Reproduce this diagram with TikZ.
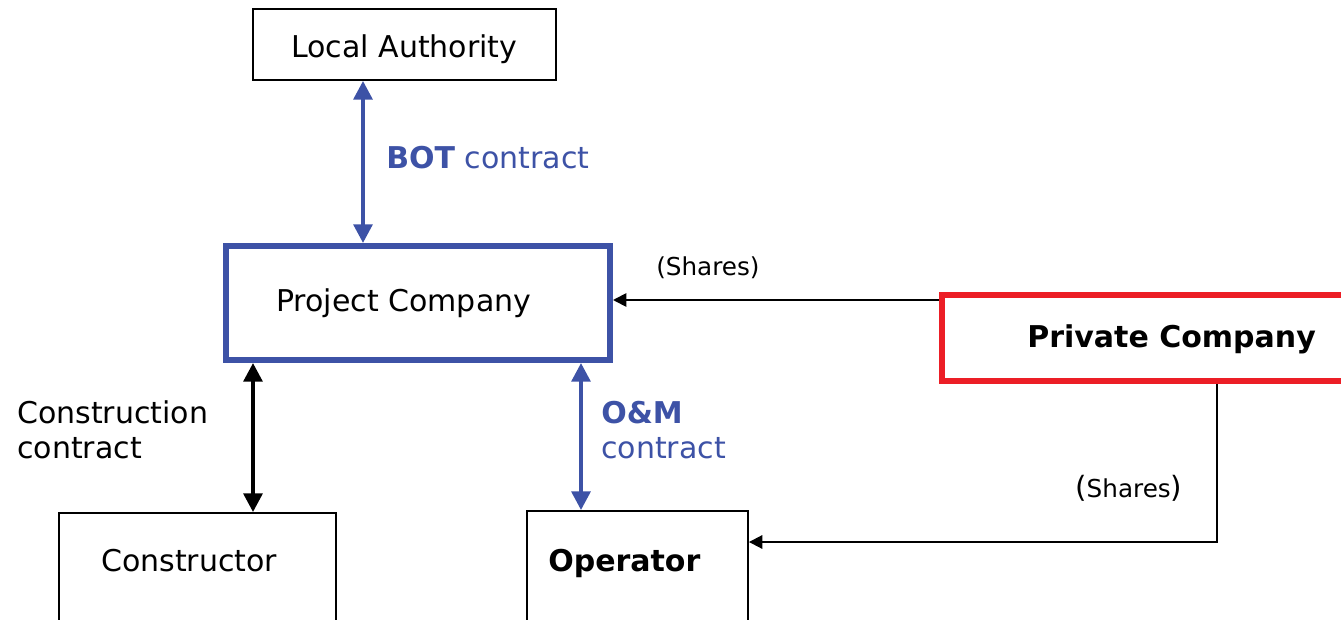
\documentclass[tikz,border=0pt]{standalone}
\usepackage{fontspec}
\setmainfont{DejaVu Sans}
\usetikzlibrary{arrows.meta,fit}

\definecolor{bluecontract}{RGB}{61,82,166}
\definecolor{redbox}{RGB}{236,30,38}

\begin{document}
\begin{tikzpicture}[x=0.75pt,y=-0.75pt,
  thinbox/.style={draw=black,line width=1.4pt,inner sep=0pt},
  bluebox/.style={draw=bluecontract,line width=4.5pt,inner sep=0pt},
  redframe/.style={draw=redbox,line width=4.5pt,inner sep=0pt},
  txt/.style={inner sep=0pt,anchor=base west,font=\fontsize{22.5}{26}\selectfont},
  smalltxt/.style={inner sep=0pt,anchor=base west,font=\fontsize{18.5}{22}\selectfont},
  twoline/.style={inner sep=0pt,anchor=west,align=left,font=\fontsize{22.5}{26.5}\selectfont},
  bluelink/.style={bluecontract,line width=3pt,
    arrows={Triangle[length=14pt,width=14pt]-Triangle[length=14pt,width=14pt]}},
  blacklink/.style={black,line width=3pt,
    arrows={Triangle[length=14pt,width=14pt]-Triangle[length=14pt,width=14pt]}},
  shareslink/.style={black,line width=1.4pt,
    arrows={-Triangle[length=10pt,width=10pt]}}
]
\useasboundingbox (0,0) rectangle (1341,620);
\clip (0,0) rectangle (1341,620);

% boxes
\node[thinbox,fit={(253,9) (556,80)}] (la) {};
\node[bluebox,fit={(226,246) (610,360)}] (pc) {};
\node[redframe,fit={(942,295) (1370,381)}] (prc) {};
\node[thinbox,fit={(59,513) (336,660)}] (con) {};
\node[thinbox,fit={(527,511) (748,660)}] (op) {};

% box texts
\node[txt] (latxt) at (291,58) {Local Authority};
\node[txt] (pctxt) at (276,311) {Project Company};
\node[txt,font=\fontsize{22.5}{26}\selectfont\bfseries] (prctxt) at (1027,347) {Private Company};
\node[txt] (contxt) at (101,571) {Constructor};
\node[txt,font=\fontsize{22.5}{26}\selectfont\bfseries] (optxt) at (548,571) {Operator};

% connector positions
\coordinate (xbot) at (363,0);
\coordinate (xcon) at (253,0);
\coordinate (xom) at (581,0);
\coordinate (yshare) at (0,300);
\coordinate (xshare) at (1217,0);
\coordinate (bend) at (1217,542);

% contracts
\draw[bluelink] (xbot |- la.south) -- (xbot |- pc.north);
\draw[blacklink] (xcon |- pc.south) -- (xcon |- con.north);
\draw[bluelink] (xom |- pc.south) -- (xom |- op.north);

% shareholdings
\draw[shareslink] (prc.west |- yshare) -- (pc.east |- yshare);
\draw[shareslink] (xshare |- prc.south) -- (bend) -- (op.east |- bend);

% labels
\node[txt,text=bluecontract] (botlbl) at (386,169) {\textbf{BOT} contract};
\node[twoline] (conlbl) at (17,430) {Construction\\contract};
\node[twoline,text=bluecontract] (omlbl) at (601,430) {\textbf{O\&M}\\contract};
\node[smalltxt] (sh1) at (656,275) {(Shares)};
\node[smalltxt] (sh2) at (1075,497) {\fontsize{22}{22}\selectfont(\fontsize{18.5}{22}\selectfont Shares\fontsize{22}{22}\selectfont)};
\end{tikzpicture}
\end{document}
